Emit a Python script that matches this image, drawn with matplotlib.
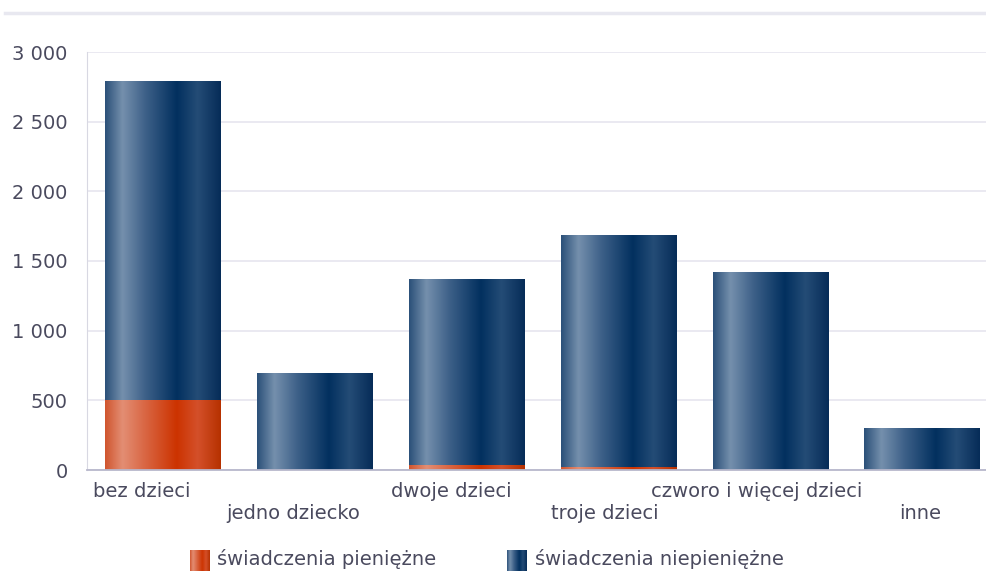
import numpy as np
import matplotlib
matplotlib.use("Agg")
import matplotlib.pyplot as plt
from matplotlib.colors import LinearSegmentedColormap
from matplotlib.lines import Line2D

categories = ["bez dzieci", "jedno dziecko", "dwoje dzieci", "troje dzieci",
              "czworo i więcej dzieci", "inne"]
pieniezne = [500, 0, 35, 20, 0, 0]
niepieniezne = [2285, 690, 1330, 1660, 1420, 300]
series_names = ["świadczenia pieniężne", "świadczenia niepieniężne"]
yticks = [0, 500, 1000, 1500, 2000, 2500, 3000]

text_color = "#4a4a5e"
fs = 14

# horizontal gradients imitating the shaded bars
blue_cmap = LinearSegmentedColormap.from_list("blue", [
    (0.0, "#2b5079"), (0.15, "#7590ad"), (0.35, "#3d6088"),
    (0.62, "#02305f"), (0.8, "#244c76"), (1.0, "#062c58")])
orange_cmap = LinearSegmentedColormap.from_list("orange", [
    (0.0, "#d0552e"), (0.15, "#e38e74"), (0.35, "#d96542"),
    (0.62, "#cc3300"), (0.8, "#d4502a"), (1.0, "#b63100")])
grad = np.linspace(0, 1, 256).reshape(1, -1)

fig = plt.figure(figsize=(9.87, 5.71), dpi=100)
ax = fig.add_axes([87 / 987, 1 - 470 / 571, 911 / 987, 418 / 571])

x = np.arange(len(categories))
width = 0.76
b1 = ax.bar(x, pieniezne, width, color="none", edgecolor="none")
b2 = ax.bar(x, niepieniezne, width, bottom=pieniezne, color="none", edgecolor="none")

def fill_gradient(bars, cmap):
    for r in bars:
        h = r.get_height()
        if h <= 0:
            continue
        x0 = r.get_x()
        y0 = r.get_y()
        ax.imshow(grad, cmap=cmap, aspect="auto", interpolation="bicubic",
                  extent=(x0, x0 + r.get_width(), y0, y0 + h), zorder=2)

fill_gradient(b1, orange_cmap)
fill_gradient(b2, blue_cmap)

ax.set_xlim(-0.5, len(categories) - 0.5)
ax.set_ylim(0, 3000)
ax.set_yticks(yticks)
ax.set_yticklabels([f"{v:,}".replace(",", " ") for v in yticks])
ax.yaxis.grid(True, color="#e8e7f0", linewidth=1.3)
ax.set_axisbelow(True)
ax.tick_params(axis="y", length=0, pad=14, labelsize=fs, labelcolor=text_color)
ax.tick_params(axis="x", length=0)

ax.set_xticks(x)
ax.set_xticklabels(["" for _ in categories])
# staggered labels, slightly left of the bar centres as in the original
shift = [-21, -21, -15, -14, -14, -2]
for i, c in enumerate(categories):
    dy = -27 if i % 2 == 0 else -49
    ax.annotate(c, (i, 0), xycoords=("data", "axes fraction"),
                xytext=(shift[i], dy), textcoords="offset pixels",
                ha="center", va="baseline", fontsize=fs, color=text_color)

for s in ["top", "right"]:
    ax.spines[s].set_visible(False)
ax.spines["left"].set_color("#d8d8e2")
ax.spines["bottom"].set_color("#b8b8cc")
ax.spines["bottom"].set_linewidth(1.3)

# top rule
fig.add_artist(Line2D([5 / 987, 1], [1 - 13 / 571, 1 - 13 / 571],
                      color="#e8e8f0", linewidth=2.5))

# legend with gradient swatches
for cmap, px, tx, name in [(orange_cmap, 190, 217, series_names[0]),
                           (blue_cmap, 507, 535, series_names[1])]:
    sw = fig.add_axes([px / 987, 0, 20 / 987, 21 / 571])
    sw.imshow(grad, cmap=cmap, aspect="auto", interpolation="bicubic")
    sw.axis("off")
    fig.text(tx / 987, 1 - 565 / 571, name, ha="left", va="baseline",
             fontsize=fs, color=text_color)

fig.savefig("out.png", dpi=100)
